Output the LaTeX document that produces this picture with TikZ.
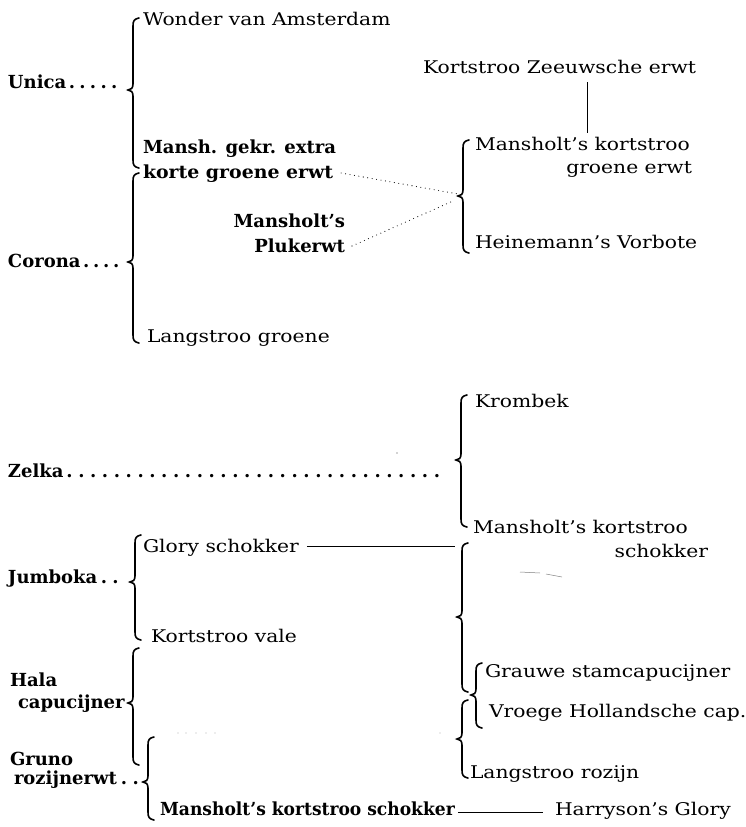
\documentclass[tikz,border=0pt]{standalone}
\usepackage{fontspec}
\setmainfont{DejaVu Serif}
\newfontfamily\rmx{DejaVu Serif}[FakeStretch=1.16]
\newcommand\namedots[3]{\hbox to #1{#3\xleaders\hbox to #2{\hss.\hss}\hfill}}
\newcommand\brc[4]{%
  \draw[bracestyle] (#1+6,#2) .. controls (#1+1,#2+1) and (#1,#2+3) .. (#1,#2+8)
    -- (#1,#3-6) .. controls (#1,#3-2) and (#1-2,#3) .. (#1-5,#3)
    .. controls (#1-2,#3) and (#1,#3+2) .. (#1,#3+6)
    -- (#1,#4-8) .. controls (#1,#4-3) and (#1+1,#4-1) .. (#1+6,#4);}
\begin{document}
\begin{tikzpicture}[x=1pt,y=-1pt,
  every node/.style={inner sep=0pt,outer sep=0pt},
  txt/.style={anchor=base west,font=\rmx\fontsize{17.5}{20}\selectfont},
  txtr/.style={anchor=base east,font=\rmx\fontsize{17.5}{20}\selectfont},
  bld/.style={anchor=base west,font=\fontsize{18}{21}\selectfont\bfseries},
  bldr/.style={anchor=base east,font=\fontsize{18}{21}\selectfont\bfseries},
  bracestyle/.style={line width=1.6pt,line cap=round},
  link/.style={line width=0.8pt},
  dotlink/.style={line width=1.1pt,line cap=round,dash pattern=on 0pt off 4.5pt}]
\useasboundingbox (0,0) rectangle (745,827);
% ---------- top part ----------
\node[txt] (wva) at (143,25) {Wonder van Amsterdam};
\node[bld] (unica) at (8,88) {\namedots{112pt}{9.8pt}{Unica}};
\node[bld] (mgk1) at (143,153) {Mansh. gekr. extra};
\node[bld] (mgk2) at (143,178) {\scalebox{1.05}[1]{korte groene erwt}};
\node[bld] (corona) at (8,267) {\namedots{114pt}{8.8pt}{Corona}};
\node[bldr] (mp1) at (345,227) {Mansholt’s};
\node[bldr] (mp2) at (345,252) {Plukerwt};
\node[txt] (lgr) at (147,342) {Langstroo groene};
\node[txt] (kze) at (423,73) {Kortstroo Zeeuwsche erwt};
\node[txt] (mkg1) at (475,150) {Mansholt’s kortstroo};
\node[txtr] (mkg2) at (692,173) {groene erwt};
\node[txt] (hv) at (475,248) {Heinemann’s Vorbote};
\brc{133}{18}{90}{168}
\brc{133}{173}{262}{343}
\brc{463}{140}{196}{253}
\coordinate (kzl) at (587,133);
\draw[link] (kzl |- 0,82) -- (kzl);
\coordinate (tipA) at (458,194);
\coordinate (tipB) at (453,201);
\draw[dotlink] ([xshift=8pt,yshift=5pt]mgk2.base east) -- (tipA);
\draw[dotlink] ([xshift=7pt,yshift=6pt]mp2.base east) -- (tipB);
% ---------- lower part ----------
\node[txt] (krb) at (475,407) {Krombek};
\node[bld] (zelka) at (8,477) {\namedots{435pt}{11.7pt}{Zelka}};
\node[txt] (mks1) at (473,533) {Mansholt’s kortstroo};
\node[txtr] (mks2) at (708,557) {schokker};
\node[txt] (gsk) at (143,552) {Glory schokker};
\node[bld] (jumb) at (8,583) {\namedots{114pt}{10pt}{Jumboka}};
\node[txt] (ktv) at (151,642) {Kortstroo vale};
\node[bld] (hala1) at (10,686) {Hala};
\node[bld] (hala2) at (18,708) {capucijner};
\node[txt] (gsc) at (485,677) {Grauwe stamcapucijner};
\node[txt] (vhc) at (489,717) {Vroege Hollandsche cap.};
\node[bld] (gru1) at (10,765) {Gruno};
\node[bld] (gru2) at (14,784) {\namedots{129pt}{9pt}{rozijnerwt}};
\node[txt] (lrz) at (470,778) {Langstroo rozijn};
\node[bld] (msk) at (160,815) {\scalebox{0.95}[1]{Mansholt’s kortstroo schokker}};
\node[txt] (hgl) at (555,815) {Harryson’s Glory};
\brc{461}{395}{460}{527}
\brc{462}{543}{617}{692}
\brc{462}{700}{739}{778}
\brc{476}{663}{695}{728}
\brc{135}{535}{582}{640}
\brc{133}{648}{703}{765}
\brc{148}{737}{782}{820}
\coordinate (gsl) at (455,546);
\draw[link] ([xshift=8pt]gsk.east |- gsl) -- (gsl);
\draw[link] ([shift={(3pt,3pt)}]msk.base east) -- ([shift={(-12pt,3pt)}]hgl.base west);
% stray marks of the print
\draw[line width=0.5pt,gray] (520,572) -- (540,573) (546,574) -- (562,577);
\fill[gray!70] (397,453) circle (0.8);
\foreach \xx in {178,186,196,206,215,440} \fill[gray!60] (\xx,733) circle (0.6);
\end{tikzpicture}
\end{document}
